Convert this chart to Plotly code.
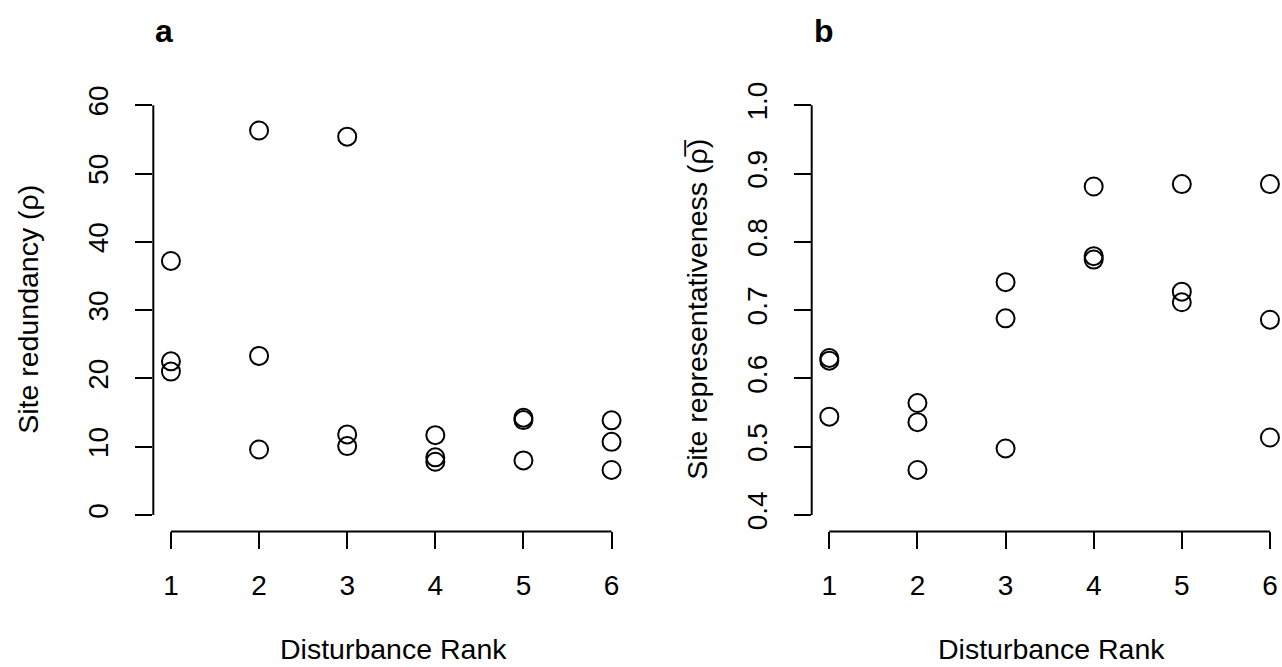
import plotly.graph_objects as go

# Data
rank_a = [1, 1, 1, 2, 2, 2, 3, 3, 3, 4, 4, 4, 5, 5, 5, 6, 6, 6]
redundancy = [37.2, 22.5, 21.0, 56.3, 23.3, 9.6, 55.4, 11.8, 10.1,
              11.7, 8.45, 7.8, 14.25, 13.9, 8.0, 13.86, 10.72, 6.6]
rank_b = [1, 1, 1, 2, 2, 2, 3, 3, 3, 4, 4, 4, 5, 5, 5, 6, 6, 6]
representativeness = [0.63, 0.626, 0.544, 0.564, 0.536, 0.466, 0.741, 0.688, 0.4975,
                      0.881, 0.779, 0.774, 0.8845, 0.727, 0.7115, 0.8845, 0.686, 0.5135]
x_ticks = [1, 2, 3, 4, 5, 6]
y_ticks_a = [0, 10, 20, 30, 40, 50, 60]
y_ticks_b = [0.4, 0.5, 0.6, 0.7, 0.8, 0.9, 1.0]
y_ticktext_b = ["0.4", "0.5", "0.6", "0.7", "0.8", "0.9", "1.0"]

FONT = "Liberation Sans, Arial, sans-serif"
W, H = 1282, 667

fig = go.Figure()
marker = dict(symbol="circle-open", size=18, color="black", line=dict(width=2, color="black"))
fig.add_trace(go.Scatter(x=rank_a, y=redundancy, mode="markers", marker=marker,
                         xaxis="x", yaxis="y", showlegend=False))
fig.add_trace(go.Scatter(x=rank_b, y=representativeness, mode="markers", marker=marker,
                         xaxis="x2", yaxis="y2", showlegend=False))

ydom = [1 - 530 / H, 1 - 82.7 / H]
tickfont = dict(family=FONT, size=28, color="black")
common_x = dict(range=[0.8, 6.2], tickvals=x_ticks, ticks="outside", ticklen=17, tickwidth=2,
                tickcolor="black", showgrid=False, zeroline=False, showline=False,
                tickfont=tickfont, ticklabelstandoff=12)
common_y = dict(ticks="outside", ticklen=17, tickwidth=2, tickcolor="black", showgrid=False,
                zeroline=False, showline=False, tickfont=tickfont, tickangle=-90,
                ticklabelstandoff=16)

fig.update_layout(
    width=W, height=H, margin=dict(l=0, r=0, t=0, b=0),
    plot_bgcolor="white", paper_bgcolor="white",
    xaxis=dict(domain=[153.3 / W, 629.2 / W], anchor="y", **common_x),
    yaxis=dict(domain=ydom, anchor="x", range=[-2.4, 62.4], tickvals=y_ticks_a, **common_y),
    xaxis2=dict(domain=[811.7 / W, 1.0], anchor="y2", **{**common_x, "range": [0.8, 6.137]}),
    yaxis2=dict(domain=ydom, anchor="x2", range=[0.376, 1.024], tickvals=y_ticks_b,
                ticktext=y_ticktext_b, **common_y),
)

# R-style axis lines spanning first to last tick
line = dict(color="black", width=2)
for xr, yr, yt in [("x", "y", y_ticks_a), ("x2", "y2", y_ticks_b)]:
    fig.add_shape(type="line", xref=f"{xr} domain", yref=yr, x0=0, x1=0,
                  y0=min(yt), y1=max(yt), line=line)
    fig.add_shape(type="line", xref=xr, yref=f"{yr} domain", x0=min(x_ticks), x1=max(x_ticks),
                  y0=0, y1=0, line=line)

labfont = dict(family=FONT, size=28.5, color="black")
annots = [
    dict(text="Site redundancy (ρ)", x=28 / W, y=1 - 306 / H, textangle=-90),
    dict(text="Site representativeness (ρ\u0305)", x=697 / W, y=1 - 306 / H, textangle=-90),
    dict(text="Disturbance Rank", x=393 / W, y=1 - 649 / H),
    dict(text="Disturbance Rank", x=1051 / W, y=1 - 649 / H),
]
for a in annots:
    fig.add_annotation(xref="paper", yref="paper", showarrow=False, font=labfont,
                       xanchor="center", yanchor="middle", **a)
for t, xp in [("a", 164), ("b", 824)]:
    fig.add_annotation(text=f"<b>{t}</b>", xref="paper", yref="paper", x=xp / W, y=1 - 24 / H,
                       showarrow=False, xanchor="center", yanchor="middle",
                       font=dict(family=FONT, size=32, color="black"))

fig.write_html("out.html", config={"displayModeBar": False},
               post_script="document.body.style.margin='0';document.body.style.overflow='hidden';")
